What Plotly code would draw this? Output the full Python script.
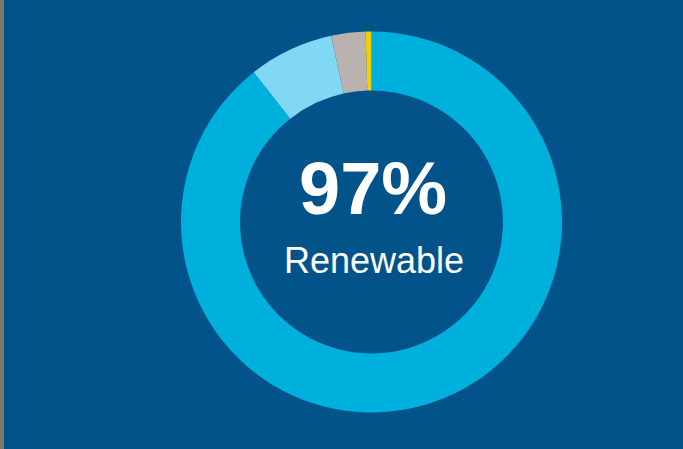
import plotly.graph_objects as go

# Generation mix shares (percent)
sources = ["Hydro", "Wind", "Natural gas", "Other"]
shares = [89.4, 7.2, 2.9, 0.5]
colors = ["#00B0DC", "#80D8F4", "#BAB2AF", "#F0D000"]

headline = "97%"
subtitle = "Renewable"

W, H = 683, 449
cx, cy, r = 371.5, 222, 190.5

fig = go.Figure(
    go.Pie(
        labels=sources,
        values=shares,
        hole=0.69,
        sort=False,
        direction="clockwise",
        rotation=0,
        marker=dict(colors=colors, line=dict(width=0)),
        textinfo="none",
        showlegend=False,
        domain=dict(
            x=[(cx - r) / W, (cx + r) / W],
            y=[(H - cy - r) / H, (H - cy + r) / H],
        ),
    )
)

fig.add_annotation(
    x=373 / W, y=(H - 188) / H, xref="paper", yref="paper",
    text=f"<b>{headline}</b>", showarrow=False,
    xanchor="center", yanchor="middle",
    font=dict(family="Liberation Sans, Arial", size=74, color="white"),
)
fig.add_annotation(
    x=374 / W, y=(H - 260.5) / H, xref="paper", yref="paper",
    text=subtitle, showarrow=False,
    xanchor="center", yanchor="middle",
    font=dict(family="Liberation Sans, Arial", size=36, color="white"),
)

# Thin grey strip on the left edge
fig.add_shape(
    type="rect", xref="paper", yref="paper",
    x0=0, x1=4 / W, y0=0, y1=1,
    fillcolor="#807870", line=dict(width=0), layer="above",
)

fig.update_layout(
    width=W, height=H,
    margin=dict(l=0, r=0, t=0, b=0),
    paper_bgcolor="#01538A",
    plot_bgcolor="#01538A",
)

fig.write_html("out.html")
